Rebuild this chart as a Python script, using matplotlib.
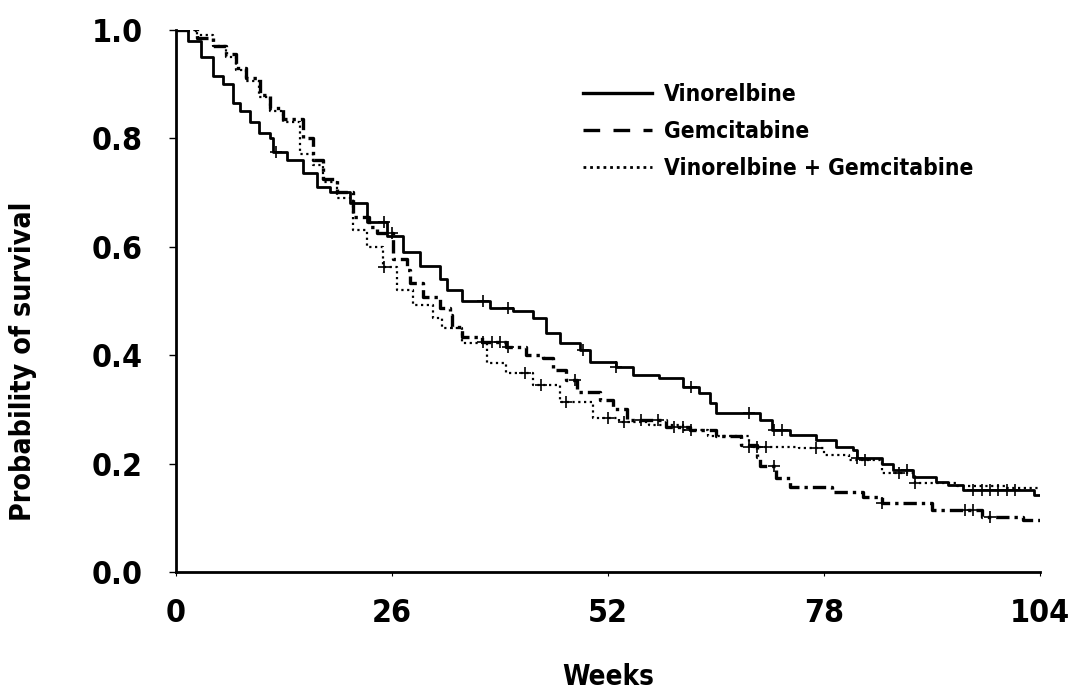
import numpy as np
import matplotlib
matplotlib.use("Agg")
import matplotlib.pyplot as plt
from matplotlib.lines import Line2D

plt.rcParams['font.family'] = ['DejaVu Sans']
plt.rcParams['font.stretch'] = 'condensed'

# Kaplan-Meier step data (weeks, survival)
vin_t = [0, 1.5, 3, 4.5, 5.7, 6.9, 7.7, 8.9, 10, 11.3, 11.7, 13.4, 15.3, 17, 18.5, 21, 23, 25.4, 27.3,
         29.4, 31.8, 32.6, 34.5, 37.8, 40.6, 43, 44.6, 46.2, 48.6, 49.8, 53, 55, 58.2, 61, 63, 64.3, 65,
         70.3, 71.8, 73.9, 77, 79.5, 81.5, 82, 85, 86.3, 88.7, 91.5, 93, 94.7, 103.3, 104]
vin_s = [1.0, 0.98, 0.95, 0.915, 0.90, 0.865, 0.85, 0.83, 0.81, 0.80, 0.775, 0.76, 0.735, 0.71, 0.70, 0.68,
         0.645, 0.62, 0.59, 0.565, 0.54, 0.52, 0.50, 0.487, 0.482, 0.469, 0.44, 0.422, 0.41, 0.387, 0.378,
         0.363, 0.358, 0.341, 0.33, 0.312, 0.293, 0.28, 0.262, 0.253, 0.244, 0.231, 0.225, 0.21, 0.20,
         0.188, 0.175, 0.166, 0.16, 0.151, 0.142, 0.142]
vin_c = [12, 25, 37, 40, 49, 53, 62, 69, 72, 73, 82, 88, 96, 97, 98, 99, 100, 101]

gem_t = [0, 2.5, 4.5, 6.1, 7.3, 8.5, 10.1, 11.3, 12.9, 15.3, 16.5, 17.7, 19.4, 21.3, 23.3, 24.2, 26.1, 27.8,
         28.2, 29.7, 31.8, 33, 33.3, 34.5, 36.9, 39.8, 42.2, 44.2, 45.4, 47, 48.3, 51, 52.6, 54.3, 59, 61.9,
         65, 68, 70, 70.3, 72.3, 73.9, 79, 82.7, 85, 91, 97, 102, 104]
gem_s = [1.0, 0.985, 0.97, 0.955, 0.93, 0.91, 0.88, 0.855, 0.835, 0.80, 0.76, 0.725, 0.70, 0.655, 0.637,
         0.625, 0.578, 0.557, 0.533, 0.507, 0.487, 0.474, 0.452, 0.434, 0.424, 0.415, 0.40, 0.395, 0.373,
         0.354, 0.332, 0.317, 0.30, 0.28, 0.268, 0.262, 0.25, 0.235, 0.212, 0.195, 0.173, 0.157, 0.148,
         0.138, 0.127, 0.114, 0.101, 0.096, 0.096]
gem_c = [26, 37, 38, 39, 40, 48, 56, 58, 60, 61, 62, 72, 85, 95, 96, 98]

vg_t = [0, 2.5, 4.5, 6, 7.3, 8.5, 10, 11.3, 12.9, 14.9, 16.5, 17.7, 19.4, 21.3, 23, 24.9, 26.6, 28.5, 30.9,
        32.1, 34.5, 37.4, 39.8, 43, 46.2, 50.2, 53.4, 57, 61, 64, 69, 75, 78, 81, 85, 89, 94, 100, 104]
vg_s = [1.0, 0.99, 0.97, 0.95, 0.925, 0.905, 0.875, 0.85, 0.83, 0.77, 0.75, 0.72, 0.69, 0.63, 0.60, 0.563,
        0.52, 0.493, 0.469, 0.45, 0.422, 0.386, 0.367, 0.345, 0.314, 0.284, 0.277, 0.271, 0.262, 0.25,
        0.23, 0.229, 0.215, 0.207, 0.183, 0.164, 0.158, 0.155, 0.155]
vg_c = [25, 42, 44, 47, 52, 54, 69, 70, 71, 77, 83, 87, 89]

labels = ["Vinorelbine", "Gemcitabine", "Vinorelbine + Gemcitabine"]
x_ticks = [0, 26, 52, 78, 104]
y_ticks = [0.0, 0.2, 0.4, 0.6, 0.8, 1.0]

fig = plt.figure(figsize=(10.72, 6.90), dpi=100)
ax = fig.add_axes([0.164, 0.171, 0.806, 0.786])

def step_val(t, s, x):
    idx = np.searchsorted(np.asarray(t), x, side='right') - 1
    return np.asarray(s)[idx]

series = [
    (vin_t, vin_s, vin_c, dict(linestyle='-', linewidth=2.0)),
    (gem_t, gem_s, gem_c, dict(linestyle=(0, (4, 1.5, 1, 1.5)), linewidth=2.4)),
    (vg_t, vg_s, vg_c, dict(linestyle=(0, (1, 1.6)), linewidth=1.6)),
]
for t, s, c, st in series:
    ax.step(t, s, where='post', color='black', **st)
    ax.plot(c, step_val(t, s, c), linestyle='none', marker='+', color='black',
            markersize=8, markeredgewidth=1.2)

ax.set_xlim(0, 104)
ax.set_ylim(0, 1.0)
ax.set_xticks(x_ticks)
ax.set_xticklabels([str(v) for v in x_ticks])
ax.set_yticks(y_ticks)
ax.set_yticklabels([f"{v:.1f}" for v in y_ticks])
for sp in ['top', 'right']:
    ax.spines[sp].set_visible(False)
for sp in ['left', 'bottom']:
    ax.spines[sp].set_linewidth(2.0)
ax.tick_params(axis='both', labelsize=23)
ax.tick_params(axis='y', length=5, width=1, pad=19)
ax.tick_params(axis='x', length=3, width=0.8, pad=16)
for lab in ax.get_xticklabels() + ax.get_yticklabels():
    lab.set_fontweight('bold')
ax.set_xlabel("Weeks", fontsize=20, fontweight='bold', labelpad=24)
ax.set_ylabel("Probability of survival", fontsize=20.5, fontweight='bold')
ax.yaxis.set_label_coords(-0.161, 0.389)

handles = [Line2D([], [], color='black', linestyle='-', linewidth=2.4),
           Line2D([], [], color='black', linestyle=(0, (5, 4)), linewidth=2.4),
           Line2D([], [], color='black', linestyle=(0, (1, 1.4)), linewidth=2.0)]
leg = ax.legend(handles, labels, loc='upper left', bbox_to_anchor=(0.461, 0.918), frameon=False,
                prop=dict(size=16.4, weight='bold'), handlelength=3.0, handletextpad=0.55,
                labelspacing=0.6, borderaxespad=0)

fig.savefig("out.png", dpi=100)
